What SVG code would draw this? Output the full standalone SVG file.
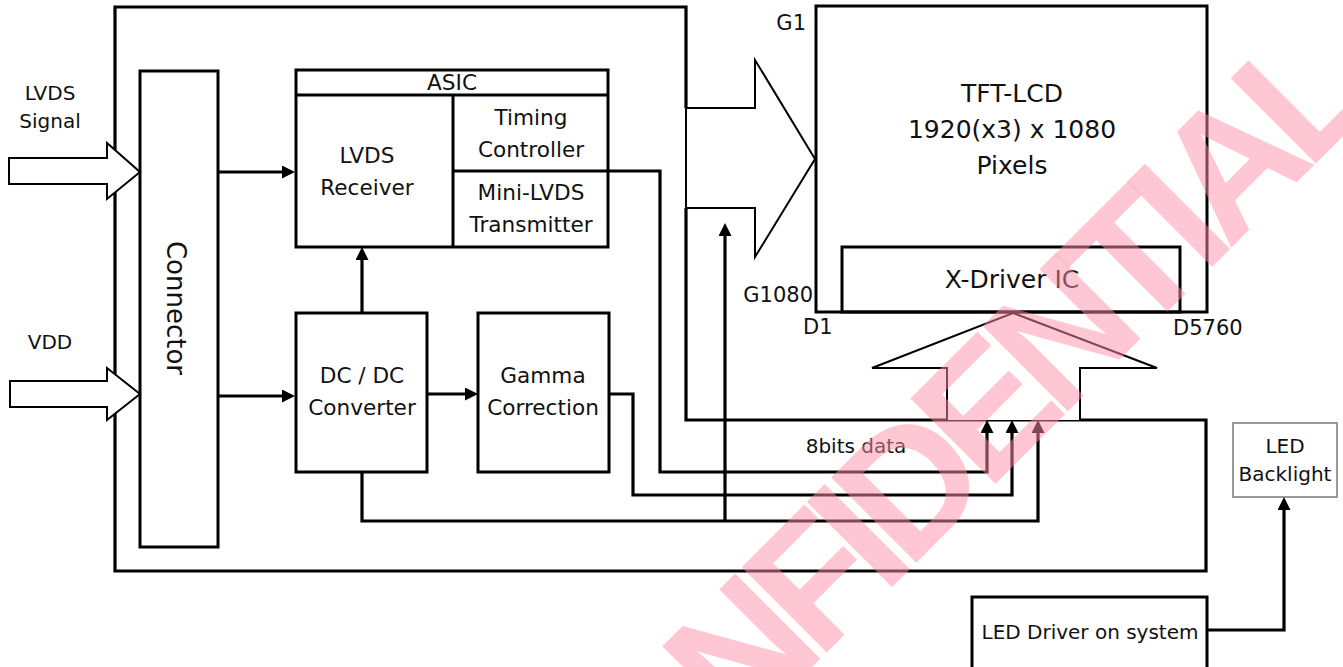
<svg xmlns="http://www.w3.org/2000/svg" width="1343" height="667" viewBox="0 0 1343 667">
<style>
.box{fill:none;stroke:#000;stroke-width:3}
.big{fill:#fff;stroke:#000;stroke-width:2;stroke-linejoin:miter}
.ln{fill:none;stroke:#000;stroke-width:3.2;stroke-linejoin:miter}
.t{font-family:"DejaVu Sans",sans-serif;fill:#111;text-anchor:middle}
.s20{font-size:20px}
.s21{font-size:21px}
.s22{font-size:21.6px}
.s25{font-size:25px}
.wm{font-family:"Liberation Sans",Arial,sans-serif;font-weight:bold;font-size:175px;fill:#ff8fa8;fill-opacity:0.5;text-anchor:middle}
</style>
<defs>
<marker id="ah" markerUnits="userSpaceOnUse" markerWidth="14" markerHeight="14" refX="5" refY="6.5" orient="auto">
<path d="M0,0 L13,6.5 L0,13 z" fill="#000"/>
</marker>
</defs>
<rect width="1343" height="667" fill="#fff"/>
<g id="board">
<path class="ln" d="M686,108 V7 H115 V571 H1206 V420 H686 V208"/>
</g>
<g id="lvds-signal-in">
<polygon class="big" points="9,158 107,158 107,143 140,172 107,199 107,184 9,184"/>
<text class="t s20" x="50" y="100">LVDS</text>
<text class="t s20" x="50" y="128">Signal</text>
</g>
<g id="vdd-in">
<polygon class="big" points="10,381 107,381 107,368 140,394 107,420 107,407 10,407"/>
<text class="t s20" x="50" y="349">VDD</text>
</g>
<g id="connector">
<rect class="box" x="140" y="71" width="78" height="476"/>
<text class="t" style="font-size:26px" transform="translate(176,308) rotate(90)" x="0" y="9.5">Connector</text>
</g>
<g id="asic">
<rect class="box" x="296" y="70" width="312" height="177"/>
<line class="box" x1="296" y1="95" x2="608" y2="95"/>
<line class="box" x1="453" y1="95" x2="453" y2="247"/>
<line class="box" x1="453" y1="171" x2="608" y2="171"/>
<text class="t s22" x="452" y="90">ASIC</text>
<text class="t s22" x="367" y="163">LVDS</text>
<text class="t s22" x="367" y="195">Receiver</text>
<text class="t s22" x="531" y="125">Timing</text>
<text class="t s22" x="531" y="157">Controller</text>
<text class="t s22" x="531" y="200">Mini-LVDS</text>
<text class="t s22" x="531" y="232">Transmitter</text>
</g>
<g id="dcdc">
<rect class="box" x="296" y="313" width="131" height="159"/>
<text class="t s22" x="362" y="383">DC / DC</text>
<text class="t s22" x="362" y="415">Converter</text>
</g>
<g id="gamma">
<rect class="box" x="478" y="313" width="131" height="159"/>
<text class="t s22" x="543" y="383">Gamma</text>
<text class="t s22" x="543" y="415">Correction</text>
</g>
<g id="gate-arrow">
<polygon class="big" points="686,108 755,108 755,60 815,159 755,257 755,208 686,208"/>
</g>
<g id="tft-lcd">
<rect class="box" x="816" y="6" width="391" height="306"/>
<text class="t s25" x="1012" y="102">TFT-LCD</text>
<text class="t s25" x="1012" y="138">1920(x3) x 1080</text>
<text class="t s25" x="1012" y="174">Pixels</text>
<text class="t s21" x="806" y="30" style="text-anchor:end">G1</text>
<text class="t s21" x="813" y="302" style="text-anchor:end">G1080</text>
<text class="t s21" x="803" y="334" style="text-anchor:start">D1</text>
<text class="t s21" x="1173" y="335" style="text-anchor:start">D5760</text>
</g>
<g id="x-driver">
<rect class="box" x="842" y="247" width="338" height="65"/>
<text class="t s25" x="1012" y="288">X-Driver IC</text>
</g>
<g id="source-arrow">
<polyline class="big" points="947,420 947,368 872,368 1013,313 1157,368 1080,368 1080,420"/>
</g>
<g id="led-backlight">
<rect x="1233" y="423" width="104" height="74" fill="none" stroke="#999" stroke-width="2"/>
<text class="t s20" x="1285" y="453">LED</text>
<text class="t s20" x="1285" y="481">Backlight</text>
</g>
<g id="led-driver">
<rect class="box" x="972" y="597" width="235" height="85"/>
<text class="t s20" x="1090" y="639">LED Driver on system</text>
</g>
<g id="connectors">
<path class="ln" d="M218,172 H287" marker-end="url(#ah)"/>
<path class="ln" d="M218,396 H287" marker-end="url(#ah)"/>
<path class="ln" d="M427,394 H470" marker-end="url(#ah)"/>
<path class="ln" d="M362,313 V255" marker-end="url(#ah)"/>
<path class="ln" d="M608,171 H660 V472 H987 V428" marker-end="url(#ah)"/>
<path class="ln" d="M609,394 H633 V495 H1012 V428" marker-end="url(#ah)"/>
<path class="ln" d="M362,472 V521 H1038 V428" marker-end="url(#ah)"/>
<path class="ln" d="M725,521 V231" marker-end="url(#ah)"/>
<path class="ln" d="M1207,630 H1284 V505" marker-end="url(#ah)"/>
<text class="t s20" x="856" y="453">8bits data</text>
</g>
<g id="watermark">
<text class="wm" transform="translate(934,456) rotate(-45)" x="0" y="63" textLength="1144" lengthAdjust="spacing">CONFIDENTIAL</text>
</g>
</svg>
